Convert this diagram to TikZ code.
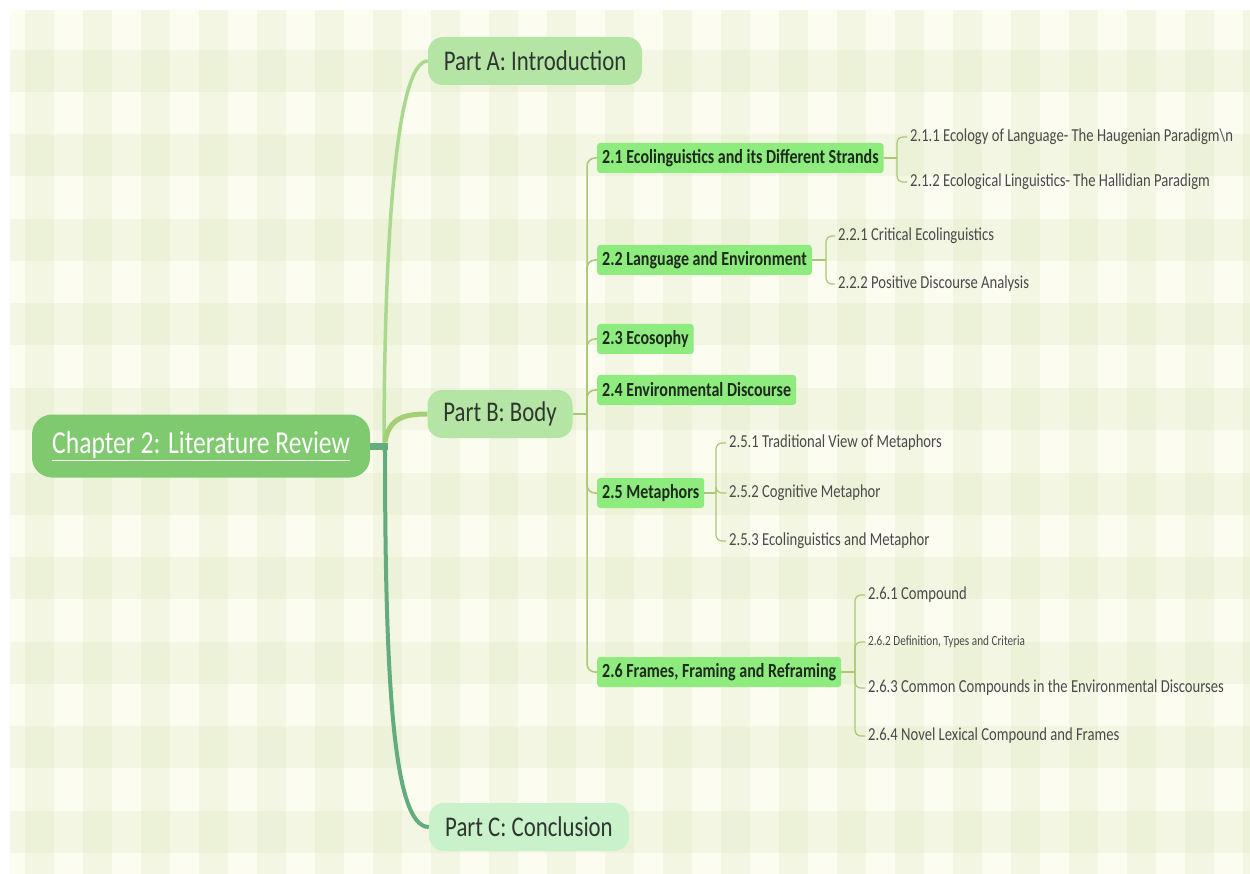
\documentclass[tikz,border=0pt]{standalone}
\usepackage{fontspec}
\setmainfont{Carlito}
\newfontfamily\condf[FakeStretch=0.8]{Carlito}
\definecolor{cream}{HTML}{FDFCF0}
\definecolor{stripe}{HTML}{DCEAC4}
\definecolor{rootfill}{HTML}{7FC96F}
\definecolor{partfill}{HTML}{B5E5A5}
\definecolor{partcfill}{HTML}{C9F2CB}
\definecolor{secfill}{HTML}{8EEB7E}
\definecolor{txt}{HTML}{2F362F}
\definecolor{sectxt}{HTML}{1E2A1E}
\definecolor{subtxt}{HTML}{4A4A4A}
\definecolor{lineA}{HTML}{A9D98F}
\definecolor{lineB}{HTML}{A6CE76}
\definecolor{lineC}{HTML}{62AC7E}
\definecolor{secline}{HTML}{A9C874}
\tikzset{
  rootbox/.style={fill=rootfill, rounded corners=20pt, minimum width=338pt, minimum height=63pt, text=white, font=\condf\fontsize{32}{36}\selectfont},
  partbox/.style={fill=#1, rounded corners=15pt, minimum height=48pt, text=txt, font=\condf\fontsize{28.5}{32}\selectfont},
  secbox/.style={fill=secfill, rounded corners=3pt, minimum height=30pt, inner xsep=5pt, inner ysep=0pt, anchor=west, text=sectxt, font=\condf\bfseries\fontsize{20}{23}\selectfont},
  subtext/.style={anchor=west, inner xsep=3pt, inner ysep=0pt, text=subtxt, font=\condf\fontsize{18.3}{21}\selectfont},
  secconn/.style={draw=secline, line width=1.5pt, rounded corners=8pt},
  subconn/.style={draw=secline, line width=1.2pt, rounded corners=6pt},
}
\begin{document}
\begin{tikzpicture}[x=1pt,y=-1pt]
\useasboundingbox (0,0) rectangle (1250,874);
\fill[white] (0,0) rectangle (1250,874);
\begin{scope}
\clip (10,10) rectangle (1250,874);
\fill[cream] (10,10) rectangle (1250,874);
\foreach \i in {0,...,21} \fill[stripe,opacity=.3] ({25+58*\i},10) rectangle ({54+58*\i},874);
\foreach \j in {0,...,9} \fill[stripe,opacity=.3] (10,{50+84.5*\j}) rectangle (1250,{92+84.5*\j});
\end{scope}

% nodes
\node[rootbox] (root) at (201,446) {\underline{Chapter 2: Literature Review}};
\node[partbox=partfill, minimum width=214pt] (pA) at (535,61) {Part A: Introduction};
\node[partbox=partfill, minimum width=145pt] (pB) at (500,414) {Part B: Body};
\node[partbox=partcfill, minimum width=200pt] (pC) at (529,827) {Part C: Conclusion};

\node[secbox] (s21) at (597,158) {2.1 Ecolinguistics and its Different Strands};
\node[secbox] (s22) at (597,260) {2.2 Language and Environment};
\node[secbox] (s23) at (597,339) {2.3 Ecosophy};
\node[secbox] (s24) at (597,390) {2.4 Environmental Discourse};
\node[secbox] (s25) at (597,493) {2.5 Metaphors};
\node[secbox] (s26) at (597,672) {2.6 Frames, Framing and Reframing};

\node[subtext] (t211) at (907,137) {2.1.1 Ecology of Language- The Haugenian Paradigm\textbackslash n};
\node[subtext] (t212) at (907,182) {2.1.2 Ecological Linguistics- The Hallidian Paradigm};
\node[subtext] (t221) at (835,236) {2.2.1 Critical Ecolinguistics};
\node[subtext] (t222) at (835,284) {2.2.2 Positive Discourse Analysis};
\node[subtext] (t251) at (726,443) {2.5.1 Traditional View of Metaphors};
\node[subtext] (t252) at (726,493) {2.5.2 Cognitive Metaphor};
\node[subtext] (t253) at (726,541) {2.5.3 Ecolinguistics and Metaphor};
\node[subtext] (t261) at (865,595) {2.6.1 Compound};
\node[subtext, font=\condf\fontsize{14}{16}\selectfont] (t262) at (865,642) {2.6.2 Definition, Types and Criteria};
\node[subtext] (t263) at (865,688) {2.6.3 Common Compounds in the Environmental Discourses};
\node[subtext] (t264) at (865,736) {2.6.4 Novel Lexical Compound and Frames};

% main connectors
\coordinate (trunk) at (385,446);
\coordinate (tA) at (384,452);
\coordinate (tC) at (385,446);
\coordinate (tB) at (385,442);
\begin{scope}[on background layer/.try]
\draw[lineA, line width=3.5pt] (tA) .. controls (384,250) and (395,61) .. (pA.west);
\draw[lineC, line width=4pt] (tC) .. controls (385,680) and (393,827) .. (pC.west);
\draw[lineB, line width=5pt] (tB) .. controls (389,418) and (404,414) .. (pB.west);
\draw[lineC, line width=7pt] (root.east) -- (trunk -| 388,0);
\end{scope}

% Part B branches
\coordinate (bB) at (587,414);
\draw[secconn] (pB.east) -- (bB);
\foreach \s in {s21,s22,s23,s24,s25,s26} \draw[secconn] (bB) |- (\s.west);

% sub branches
\coordinate (b21) at (897,158);
\draw[subconn] (s21.east) -- (b21);
\foreach \t in {t211,t212} \draw[subconn] (b21) |- (\t.west);
\coordinate (b22) at (826,260);
\draw[subconn] (s22.east) -- (b22);
\foreach \t in {t221,t222} \draw[subconn] (b22) |- (\t.west);
\coordinate (b25) at (716,493);
\draw[subconn] (s25.east) -- (b25);
\foreach \t in {t251,t252,t253} \draw[subconn] (b25) |- (\t.west);
\coordinate (b26) at (855,672);
\draw[subconn] (s26.east) -- (b26);
\foreach \t in {t261,t262,t263,t264} \draw[subconn] (b26) |- (\t.west);
\end{tikzpicture}
\end{document}
